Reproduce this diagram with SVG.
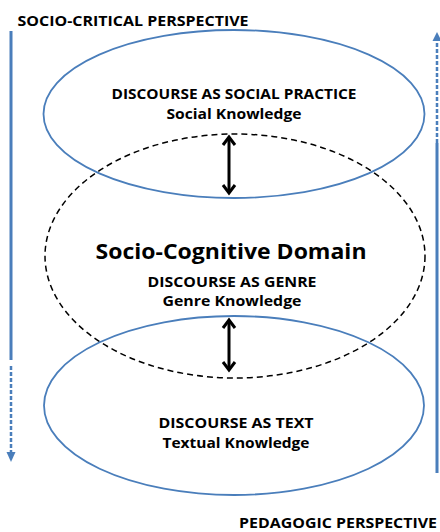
<svg xmlns="http://www.w3.org/2000/svg" width="440" height="532" viewBox="0 0 440 532">
<defs>
<style>
.t{font-family:"Open Sans","Liberation Sans",sans-serif;font-weight:bold;fill:#000;text-anchor:middle}
.blue{fill:none;stroke:#4a7ebb;stroke-width:1.8}
.dash{fill:none;stroke:#000;stroke-width:1.5;stroke-dasharray:6 4}
.solid{stroke:#4a7ebb;stroke-width:3;fill:none}
.dl{stroke:#4a7ebb;stroke-width:2.5;stroke-dasharray:4 2;fill:none}
.dbl{stroke:#000;stroke-width:3;fill:none;marker-start:url(#chev);marker-end:url(#chev)}
</style>
<marker id="chev" markerUnits="userSpaceOnUse" markerWidth="20" markerHeight="20" viewBox="-10 -10 20 20" refX="0" refY="0" orient="auto-start-reverse">
<path d="M-8,-6 L0,0 L-8,6" fill="none" stroke="#000" stroke-width="3"/>
</marker>
</defs>
<g id="genre-domain">
<ellipse class="dash" cx="235" cy="256" rx="190" ry="122"/>
<text class="t" x="231" y="259" font-size="21" textLength="271" lengthAdjust="spacingAndGlyphs">Socio-Cognitive Domain</text>
<text class="t" x="232" y="287" font-size="15" textLength="169" lengthAdjust="spacingAndGlyphs">DISCOURSE AS GENRE</text>
<text class="t" x="232" y="306" font-size="15" textLength="139" lengthAdjust="spacingAndGlyphs">Genre Knowledge</text>
</g>
<g id="social-practice">
<ellipse class="blue" cx="234" cy="114" rx="190.5" ry="84"/>
<text class="t" x="234" y="99" font-size="15" textLength="245" lengthAdjust="spacingAndGlyphs">DISCOURSE AS SOCIAL PRACTICE</text>
<text class="t" x="234" y="119" font-size="15" textLength="135" lengthAdjust="spacingAndGlyphs">Social Knowledge</text>
</g>
<g id="text-level">
<ellipse class="blue" cx="234" cy="405.5" rx="190" ry="89.5"/>
<text class="t" x="236" y="428" font-size="15" textLength="155" lengthAdjust="spacingAndGlyphs">DISCOURSE AS TEXT</text>
<text class="t" x="236" y="448" font-size="15" textLength="147" lengthAdjust="spacingAndGlyphs">Textual Knowledge</text>
</g>
<g id="socio-critical-perspective">
<text class="t" x="133" y="26" font-size="15" textLength="231" lengthAdjust="spacingAndGlyphs">SOCIO-CRITICAL PERSPECTIVE</text>
</g>
<g id="pedagogic-perspective">
<text class="t" x="338" y="528" font-size="15" textLength="198" lengthAdjust="spacingAndGlyphs">PEDAGOGIC PERSPECTIVE</text>
</g>
<g id="connectors">
<line class="dbl" x1="229" y1="137" x2="229" y2="193"/>
<line class="dbl" x1="229" y1="320" x2="229" y2="370"/>
<line class="solid" x1="11" y1="31" x2="11" y2="360"/>
<line class="dl" x1="11" y1="366" x2="11" y2="452"/>
<path d="M6.5,452 L15.5,452 L11,462 Z" fill="#4a7ebb"/>
<line class="solid" x1="437" y1="473" x2="437" y2="143"/>
<line class="dl" x1="437" y1="143" x2="437" y2="41"/>
<path d="M432.5,41 L441.5,41 L437,32 Z" fill="#4a7ebb"/>
</g>
</svg>
